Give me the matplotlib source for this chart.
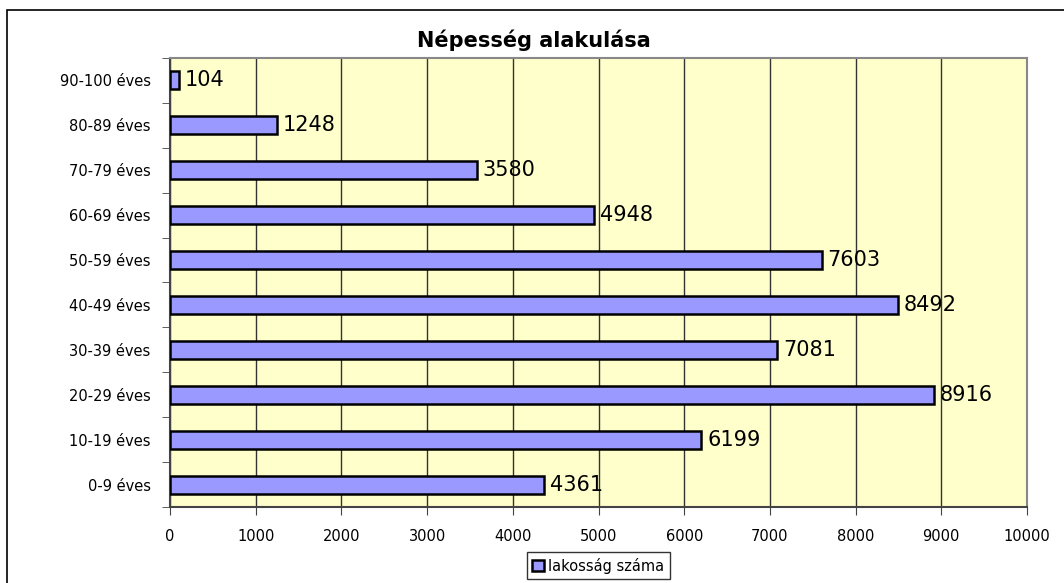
import matplotlib.pyplot as plt
from matplotlib.patches import Rectangle

# data
categories = ["0-9 éves", "10-19 éves", "20-29 éves", "30-39 éves", "40-49 éves",
              "50-59 éves", "60-69 éves", "70-79 éves", "80-89 éves", "90-100 éves"]
values = [4361, 6199, 8916, 7081, 8492, 7603, 4948, 3580, 1248, 104]
xticks = [0, 1000, 2000, 3000, 4000, 5000, 6000, 7000, 8000, 9000, 10000]

plt.rcParams['font.family'] = ['DejaVu Sans']

fig = plt.figure(figsize=(10.64, 5.83), dpi=100)
ax = fig.add_axes([170 / 1064, 1 - 507 / 583, 857 / 1064, 449 / 583])

# outer frame of the chart (left and top edges visible)
fig.patches.append(Rectangle((7 / 1064, -0.01), 1.5, 1 - 10 / 583 + 0.01,
                             transform=fig.transFigure, fill=False,
                             edgecolor="black", linewidth=1.2))

ypos = list(range(len(categories)))
ax.barh(ypos, values, height=0.4, color="#9999FF", edgecolor="black",
        linewidth=1.8, zorder=3, label="lakosság száma")

for y, v in zip(ypos, values):
    ax.text(v + 70, y, str(v), va="center", ha="left", fontsize=15, zorder=4)

ax.set_facecolor("#FFFFCC")
ax.set_xlim(0, 10000)
ax.set_ylim(-0.5, len(categories) - 0.5)
ax.set_xticks(xticks)
ax.set_xticklabels([str(t) for t in xticks], fontsize=10.5)
ax.set_yticks(ypos)
ax.set_yticklabels(categories, fontsize=10.5)
ax.tick_params(axis="y", length=0, pad=14)
ax.set_yticks([y - 0.5 for y in range(len(categories) + 1)], minor=True)
ax.tick_params(axis="y", which="minor", length=6, direction="out", color="#444444")
ax.tick_params(axis="x", length=6, direction="out", color="#444444", pad=10)

ax.grid(axis="x", color="#333333", linewidth=1, zorder=1)
for side in ["top", "right"]:
    ax.spines[side].set_color("#888888")
    ax.spines[side].set_linewidth(1.5)
for side in ["left", "bottom"]:
    ax.spines[side].set_color("#444444")
    ax.spines[side].set_linewidth(1.5)

# title is centred on the whole chart frame, not on the plot area
fig.text(534 / 1064, 1 - 40 / 583, "Népesség alakulása", fontsize=15,
         fontweight="bold", ha="center", va="center")

leg = ax.legend(loc="upper center", bbox_to_anchor=(0.5, -0.085), frameon=True,
                fancybox=False, edgecolor="black", fontsize=10.5, handlelength=0.8,
                handleheight=0.8, handletextpad=0.3, borderpad=0.35)
leg.get_frame().set_linewidth(1)

fig.savefig("out.png", dpi=100)
